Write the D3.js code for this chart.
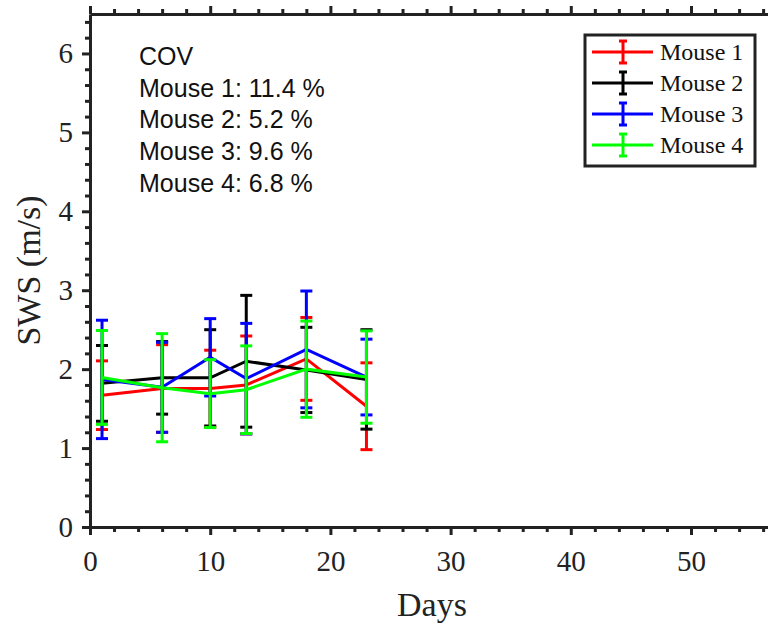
<!DOCTYPE html>
<html lang="en">
<head>
<meta charset="utf-8">
<title>SWS over days</title>
<style>
  body { margin: 0; background: #fff; }
  svg { display: block; }
  .axis path, .axis line { stroke: #222; stroke-width: 3px; }
  .axis text { font-family: "Liberation Serif", "Times New Roman", serif; font-size: 29px; fill: #222; }
  .cov { font-family: "Liberation Sans", Arial, sans-serif; font-size: 25px; fill: #111; }
  .leg text { font-family: "Liberation Serif", "Times New Roman", serif; font-size: 24px; fill: #111; }
  .lab { font-family: "Liberation Serif", "Times New Roman", serif; font-size: 34px; fill: #222; }
</style>
</head>
<body>
<div id="chart"></div>
<script src="https://cdnjs.cloudflare.com/ajax/libs/d3/7.8.5/d3.min.js"></script>
<script>
// measurement days
var days = [1, 6, 10, 13, 18, 23];

// mean SWS (m/s) and error bar half-length per mouse
var mouse1Mean = [1.67, 1.755, 1.755, 1.80, 2.13, 1.53];
var mouse1Err  = [0.435, 0.555, 0.485, 0.62, 0.525, 0.55];
var mouse2Mean = [1.82, 1.89, 1.89, 2.10, 1.99, 1.87];
var mouse2Err  = [0.48, 0.46, 0.61, 0.835, 0.54, 0.63];
var mouse3Mean = [1.87, 1.77, 2.15, 1.88, 2.25, 1.90];
var mouse3Err  = [0.75, 0.57, 0.49, 0.70, 0.74, 0.48];
var mouse4Mean = [1.895, 1.765, 1.69, 1.74, 2.00, 1.90];
var mouse4Err  = [0.595, 0.685, 0.43, 0.555, 0.61, 0.585];

var seriesNames = ['Mouse 1', 'Mouse 2', 'Mouse 3', 'Mouse 4'];
var seriesColors = ['#ff0000', '#000000', '#0000ff', '#00ff00'];

var covLines = ['COV', 'Mouse 1: 11.4 %', 'Mouse 2: 5.2 %', 'Mouse 3: 9.6 %', 'Mouse 4: 6.8 %'];

var xTicks = [0, 10, 20, 30, 40, 50];
var yTicks = [0, 1, 2, 3, 4, 5, 6];

var series = [
  { name: seriesNames[0], color: seriesColors[0], mean: mouse1Mean, err: mouse1Err },
  { name: seriesNames[1], color: seriesColors[1], mean: mouse2Mean, err: mouse2Err },
  { name: seriesNames[2], color: seriesColors[2], mean: mouse3Mean, err: mouse3Err },
  { name: seriesNames[3], color: seriesColors[3], mean: mouse4Mean, err: mouse4Err }
];

var width = 768, height = 633;
var padL = 90, padT = 14, padB = 527;

var svg = d3.select('#chart').append('svg')
  .attr('width', width)
  .attr('height', height);

var x = d3.scaleLinear().domain([0, 60]).range([padL, padL + 60 * 12.02]);
var y = d3.scaleLinear().domain([0, 6.5]).range([padB, padT]);

var minorX = d3.range(0, 61, 2).filter(function(d) { return d % 10 !== 0; });
var minorY = d3.range(0, 6.5, 0.2).filter(function(d) { return Math.abs(d - Math.round(d)) > 0.01; });

// minor ticks (no labels)
svg.append('g').attr('class', 'axis')
  .attr('transform', 'translate(0,' + padB + ')')
  .call(d3.axisBottom(x).tickValues(minorX).tickSize(5).tickFormat(''))
  .select('.domain').remove();
svg.append('g').attr('class', 'axis')
  .attr('transform', 'translate(0,' + padT + ')')
  .call(d3.axisTop(x).tickValues(minorX).tickSize(5).tickFormat(''))
  .select('.domain').remove();
svg.append('g').attr('class', 'axis')
  .attr('transform', 'translate(' + padL + ',0)')
  .call(d3.axisLeft(y).tickValues(minorY).tickSize(5).tickFormat(''))
  .select('.domain').remove();

// major axes
svg.append('g').attr('class', 'axis')
  .attr('transform', 'translate(0,' + padB + ')')
  .call(d3.axisBottom(x).tickValues(xTicks).tickSize(8).tickSizeOuter(0)
    .tickPadding(15).tickFormat(d3.format('d')));

svg.append('g').attr('class', 'axis')
  .attr('transform', 'translate(0,' + padT + ')')
  .call(d3.axisTop(x).tickValues(xTicks).tickSize(8).tickSizeOuter(0).tickFormat(''));

svg.append('g').attr('class', 'axis')
  .attr('transform', 'translate(' + padL + ',0)')
  .call(d3.axisLeft(y).tickValues(yTicks).tickSize(8).tickSizeOuter(0)
    .tickPadding(9).tickFormat(d3.format('d')));

// axis labels
svg.append('text').attr('class', 'lab')
  .attr('x', 432).attr('y', 616)
  .attr('text-anchor', 'middle')
  .text('Days');
svg.append('text').attr('class', 'lab')
  .attr('transform', 'translate(40,' + ((padT + padB) / 2) + ') rotate(-90)')
  .attr('text-anchor', 'middle')
  .text('SWS (m/s)');

// series: line + error bars, drawn in order
var line = d3.line()
  .x(function(d) { return x(d.day); })
  .y(function(d) { return y(d.m); });

var capW = 6;
series.forEach(function(s) {
  var pts = days.map(function(d, i) { return { day: d, m: s.mean[i], e: s.err[i] }; });
  var g = svg.append('g');
  g.append('path')
    .datum(pts)
    .attr('d', line)
    .attr('fill', 'none')
    .attr('stroke', s.color)
    .attr('stroke-width', 3);
  var eb = g.selectAll('.eb').data(pts).enter().append('g');
  eb.append('line')
    .attr('x1', function(d) { return x(d.day); })
    .attr('x2', function(d) { return x(d.day); })
    .attr('y1', function(d) { return y(d.m - d.e); })
    .attr('y2', function(d) { return y(d.m + d.e); });
  eb.append('line')
    .attr('x1', function(d) { return x(d.day) - capW; })
    .attr('x2', function(d) { return x(d.day) + capW; })
    .attr('y1', function(d) { return y(d.m + d.e); })
    .attr('y2', function(d) { return y(d.m + d.e); });
  eb.append('line')
    .attr('x1', function(d) { return x(d.day) - capW; })
    .attr('x2', function(d) { return x(d.day) + capW; })
    .attr('y1', function(d) { return y(d.m - d.e); })
    .attr('y2', function(d) { return y(d.m - d.e); });
  eb.selectAll('line').attr('stroke', s.color).attr('stroke-width', 3);
});

// COV annotation
svg.append('g').selectAll('text')
  .data(covLines)
  .enter().append('text')
  .attr('class', 'cov')
  .attr('x', 139)
  .attr('y', function(d, i) { return 65 + i * 31.7; })
  .text(function(d) { return d; });

// legend
var leg = svg.append('g').attr('class', 'leg');
leg.append('rect')
  .attr('x', 585).attr('y', 35)
  .attr('width', 170).attr('height', 131)
  .attr('fill', '#fff')
  .attr('stroke', '#222')
  .attr('stroke-width', 3);
var rows = leg.selectAll('.row').data(series).enter().append('g')
  .attr('transform', function(d, i) { return 'translate(0,' + (52 + i * 31) + ')'; });
rows.append('line').attr('x1', 592).attr('x2', 653).attr('y1', 0).attr('y2', 0);
rows.append('line').attr('x1', 623).attr('x2', 623).attr('y1', -11).attr('y2', 11);
rows.append('line').attr('x1', 619).attr('x2', 627).attr('y1', -11).attr('y2', -11);
rows.append('line').attr('x1', 619).attr('x2', 627).attr('y1', 11).attr('y2', 11);
rows.selectAll('line')
  .attr('stroke', function() { return d3.select(this.parentNode).datum().color; })
  .attr('stroke-width', 3);
rows.append('text')
  .attr('x', 660).attr('y', 8)
  .text(function(d) { return d.name; });
</script>
</body>
</html>
